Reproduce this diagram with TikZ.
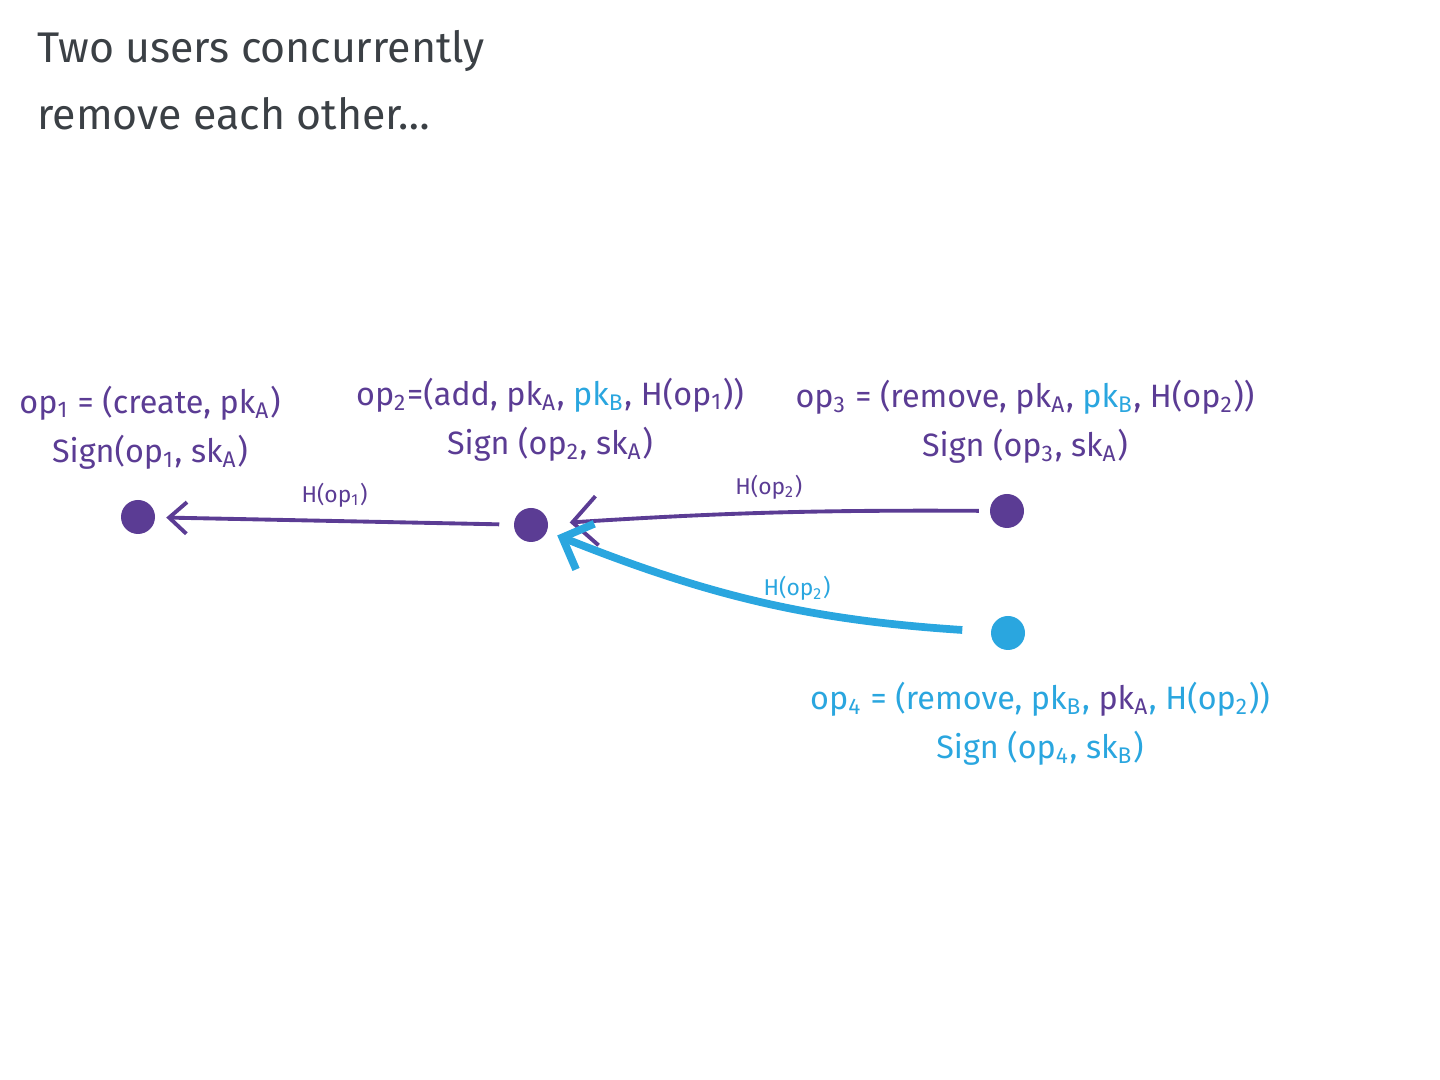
\documentclass[tikz,border=0pt]{standalone}
\usepackage{fontspec}
\setmainfont{Fira Sans}
\usetikzlibrary{arrows.meta}
\definecolor{opA}{HTML}{5B3C94}
\definecolor{opB}{HTML}{2AA6DF}
\definecolor{ink}{HTML}{3B4045}
\newcommand{\lo}[1]{\textsubscript{#1}}

\begin{document}
\begin{tikzpicture}[
    dot/.style={circle,fill=#1,inner sep=0pt,minimum size=0.34cm},
    lbl/.style={align=center,font=\fontsize{9.2}{14}\selectfont},
    hash/.style={font=\fontsize{6.5}{8}\selectfont,above,midway},
    edge/.style={-{Straight Barb[length=5pt,width=9pt]},line width=1.1pt,opA}]
        \useasboundingbox (0,0) rectangle (14.4,10.8);
        \node[anchor=north west,align=left,text=ink,font=\fontsize{12.2}{19}\selectfont] (title) at (0.25,10.62) {Two users concurrently\\remove each other\dots};
        % operations
        \node[dot=opA] (op1) at (1.38,5.63) {};
        \node[dot=opA] (op2) at (5.31,5.55) {};
        \node[dot=opA] (op3) at (10.07,5.69) {};
        \node[dot=opB] (op4) at (10.08,4.47) {};
        \node[lbl,text=opA] (l1) at (1.5,6.52) {op\lo{1} = (create, pk\lo{A})\\Sign(op\lo{1}, sk\lo{A})};
        \node[lbl,text=opA] (l2) at (5.5,6.6) {op\lo{2}=(add, pk\lo{A}, \textcolor{opB}{pk\lo{B}}, H(op\lo{1}))\\Sign (op\lo{2}, sk\lo{A})};
        \node[lbl,text=opA] (l3) at (10.25,6.58) {op\lo{3} = (remove, pk\lo{A}, \textcolor{opB}{pk\lo{B}}, H(op\lo{2}))\\Sign (op\lo{3}, sk\lo{A})};
        \node[lbl,text=opB] (l4) at (10.4,3.56) {op\lo{4} = (remove, pk\lo{B}, \textcolor{opA}{pk\lo{A}}, H(op\lo{2}))\\Sign (op\lo{4}, sk\lo{B})};
        % hash links
        \draw[edge,shorten >=3pt,shorten <=4pt] (op2) -- node[hash]{H(op\lo{1})} (op1);
        \draw[edge,shorten >=6pt,shorten <=3pt,-{Straight Barb[length=7pt,width=14pt]}] (op3) to[bend right=2] node[hash]{H(op\lo{2})} (op2);
        \draw[edge,opB,line width=2.2pt,shorten >=3pt,shorten <=8pt,-{Straight Barb[length=7pt,width=14pt]}] (op4) to[bend left=9] node[hash,pos=0.42,yshift=-2pt]{H(op\lo{2})} (op2);
    \end{tikzpicture}
\end{document}
